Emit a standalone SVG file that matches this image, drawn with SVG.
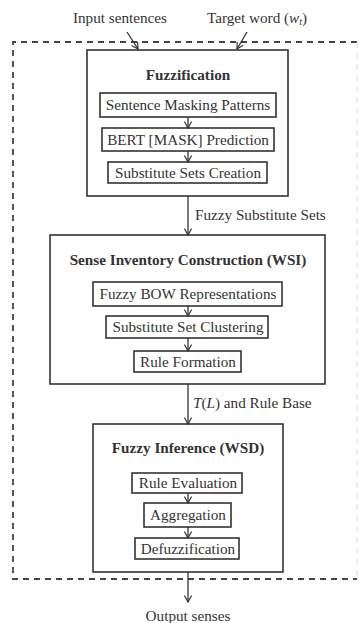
<svg xmlns="http://www.w3.org/2000/svg" width="359" height="623" viewBox="0 0 359 623">
<style>
text{font-family:"Liberation Serif","Times New Roman",serif;fill:#333;font-size:15.2px;text-anchor:middle}
.b{font-weight:bold}
.box{fill:none;stroke:#333;stroke-width:1.6}
.in{fill:none;stroke:#333;stroke-width:1.6}
.c{fill:none;stroke:#333;stroke-width:1.3}
</style>
<defs>
<marker id="ah" viewBox="0 0 10 10" refX="9" refY="5" markerWidth="8" markerHeight="8" markerUnits="userSpaceOnUse" orient="auto">
<path d="M1,0.5 L9,5 L1,9.5" fill="none" stroke="#333" stroke-width="1.5"/>
</marker>
</defs>
<rect x="0" y="0" width="359" height="623" fill="#fff"/>
<g id="frame">
<path d="M357,42 L13,42 L13,579 L357,579" fill="none" stroke="#444" stroke-width="1.8" stroke-dasharray="6,5"/>
<line x1="357" y1="42" x2="357" y2="579" stroke="#ddd" stroke-width="1" stroke-dasharray="6,5"/>
</g>
<g id="labels">
<text x="120" y="23">Input sentences</text>
<text x="257" y="23">Target word (<tspan font-style="italic">w</tspan><tspan font-style="italic" font-size="10" dy="2">t</tspan><tspan dy="-2">)</tspan></text>
<text x="188" y="621">Output senses</text>
</g>
<g id="fuzzification">
<rect class="box" x="87" y="50" width="201" height="146"/>
<text class="b" x="188" y="80">Fuzzification</text>
<rect class="in" x="100" y="93" width="176" height="24"/>
<text x="188" y="110">Sentence Masking Patterns</text>
<rect class="in" x="102" y="128" width="172" height="23"/>
<text x="188" y="145">BERT [MASK] Prediction</text>
<rect class="in" x="108" y="162" width="159" height="21"/>
<text x="188" y="178">Substitute Sets Creation</text>
</g>
<g id="wsi">
<rect class="box" x="50" y="235" width="275" height="149"/>
<text class="b" x="188" y="265">Sense Inventory Construction (WSI)</text>
<rect class="in" x="93" y="282" width="189" height="24"/>
<text x="188" y="299">Fuzzy BOW Representations</text>
<rect class="in" x="106" y="316" width="162" height="22"/>
<text x="188" y="332">Substitute Set Clustering</text>
<rect class="in" x="134" y="351" width="107" height="21"/>
<text x="188" y="367">Rule Formation</text>
</g>
<g id="wsd">
<rect class="box" x="93" y="424" width="190" height="148"/>
<text class="b" x="188" y="453">Fuzzy Inference (WSD)</text>
<rect class="in" x="132" y="473" width="110" height="20"/>
<text x="188" y="488">Rule Evaluation</text>
<rect class="in" x="144" y="503" width="87" height="24"/>
<text x="188" y="520">Aggregation</text>
<rect class="in" x="135" y="538" width="104" height="21"/>
<text x="188" y="554">Defuzzification</text>
</g>
<g id="connectors">
<line class="c" x1="127" y1="32" x2="138" y2="49" marker-end="url(#ah)"/>
<line class="c" x1="247" y1="32" x2="237" y2="49" marker-end="url(#ah)"/>
<line class="c" x1="188" y1="117" x2="188" y2="128" marker-end="url(#ah)"/>
<line class="c" x1="188" y1="151" x2="188" y2="162" marker-end="url(#ah)"/>
<line class="c" x1="188" y1="196" x2="188" y2="235" marker-end="url(#ah)"/>
<line class="c" x1="188" y1="306" x2="188" y2="316" marker-end="url(#ah)"/>
<line class="c" x1="188" y1="338" x2="188" y2="351" marker-end="url(#ah)"/>
<line class="c" x1="188" y1="384" x2="188" y2="424" marker-end="url(#ah)"/>
<line class="c" x1="188" y1="493" x2="188" y2="503" marker-end="url(#ah)"/>
<line class="c" x1="188" y1="527" x2="188" y2="538" marker-end="url(#ah)"/>
<line class="c" x1="188" y1="572" x2="188" y2="602" marker-end="url(#ah)"/>
</g>
<g id="edge-labels">
<text x="195" y="220" style="text-anchor:start">Fuzzy Substitute Sets</text>
<text x="193" y="408" style="text-anchor:start"><tspan font-style="italic">T</tspan>(<tspan font-style="italic">L</tspan>) and Rule Base</text>
</g>
</svg>
